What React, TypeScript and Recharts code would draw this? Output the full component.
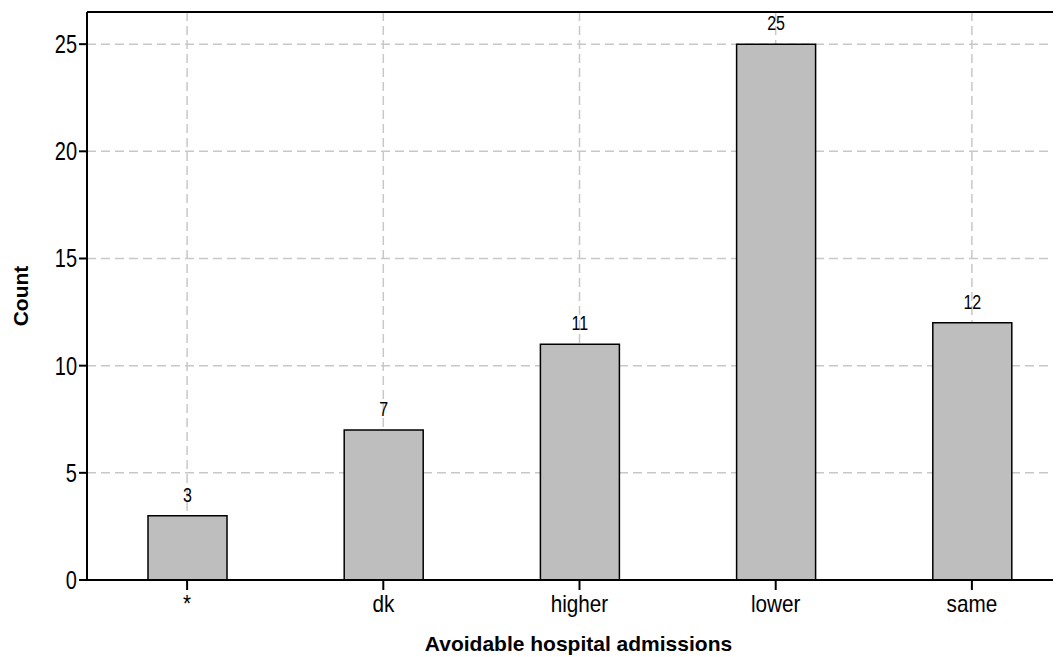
import { BarChart, Bar, XAxis, YAxis, CartesianGrid, LabelList, ReferenceLine } from 'recharts';

const categories = ['*', 'dk', 'higher', 'lower', 'same'];
const counts = [3, 7, 11, 25, 12];
const yTicks = [0, 5, 10, 15, 20, 25];

const data = categories.map((c, i) => ({ name: c, count: counts[i] }));

const font = '"Liberation Sans", Arial, sans-serif';

// narrow text, like the original's condensed face
function NarrowText({ x, y, text, size, scale, anchor, dy }: any) {
  return (
    <g transform={`translate(${x},${y})`}>
      <text
        transform={`scale(${scale},1)`}
        textAnchor={anchor}
        dy={dy}
        fontSize={size}
        fontFamily={font}
        fill="#000"
      >
        {text}
      </text>
    </g>
  );
}

const YTick = (props: any) => (
  <NarrowText x={props.x} y={props.y} text={props.payload.value} size={25} scale={0.8} anchor="end" dy={9} />
);

const XTick = (props: any) => (
  <NarrowText x={props.x} y={props.y} text={props.payload.value} size={23} scale={0.9} anchor="middle" dy={20} />
);

const BarValue = (props: any) => (
  <NarrowText
    x={props.x + props.width / 2}
    y={props.y}
    text={props.value}
    size={20}
    scale={0.8}
    anchor="middle"
    dy={-14}
  />
);

export default function App() {
  return (
    <div style={{ width: 1053, height: 649, overflow: 'hidden' }}>
      <BarChart
        width={1062}
        height={649}
        data={data}
        margin={{ top: 4, right: 0, bottom: 0, left: 0 }}
        barCategoryGap={0}
      >
        <CartesianGrid stroke="#c8c8c8" strokeDasharray="9 5" strokeWidth={1.5} />
        <ReferenceLine y={26.5} stroke="#000" strokeWidth={2} />
        <XAxis
          dataKey="name"
          height={77}
          padding={{ left: 2, right: 0 }}
          axisLine={{ stroke: '#000', strokeWidth: 2 }}
          tickLine={{ stroke: '#000', strokeWidth: 2 }}
          tickSize={10}
          tick={XTick}
          label={{
            value: 'Avoidable hospital admissions',
            position: 'insideBottom',
            offset: 6,
            fill: '#000',
            fontSize: 21,
            fontWeight: 'bold',
            fontFamily: font,
          }}
        />
        <YAxis
          width={79}
          domain={[0, 26.5]}
          ticks={yTicks}
          allowDataOverflow
          axisLine={{ stroke: '#000', strokeWidth: 2 }}
          tickLine={{ stroke: '#000', strokeWidth: 2 }}
          tickSize={8}
          tick={YTick}
          label={{
            content: () => (
              <text
                x={13}
                y={288}
                transform="rotate(-90, 13, 288)"
                textAnchor="middle"
                dy={7}
                fontSize={21}
                fontWeight="bold"
                fontFamily={font}
                fill="#000"
              >
                Count
              </text>
            ),
          }}
        />
        <Bar dataKey="count" fill="#bebebe" stroke="#000" strokeWidth={1.5} barSize={79} isAnimationActive={false}>
          <LabelList dataKey="count" content={BarValue} />
        </Bar>
      </BarChart>
    </div>
  );
}
